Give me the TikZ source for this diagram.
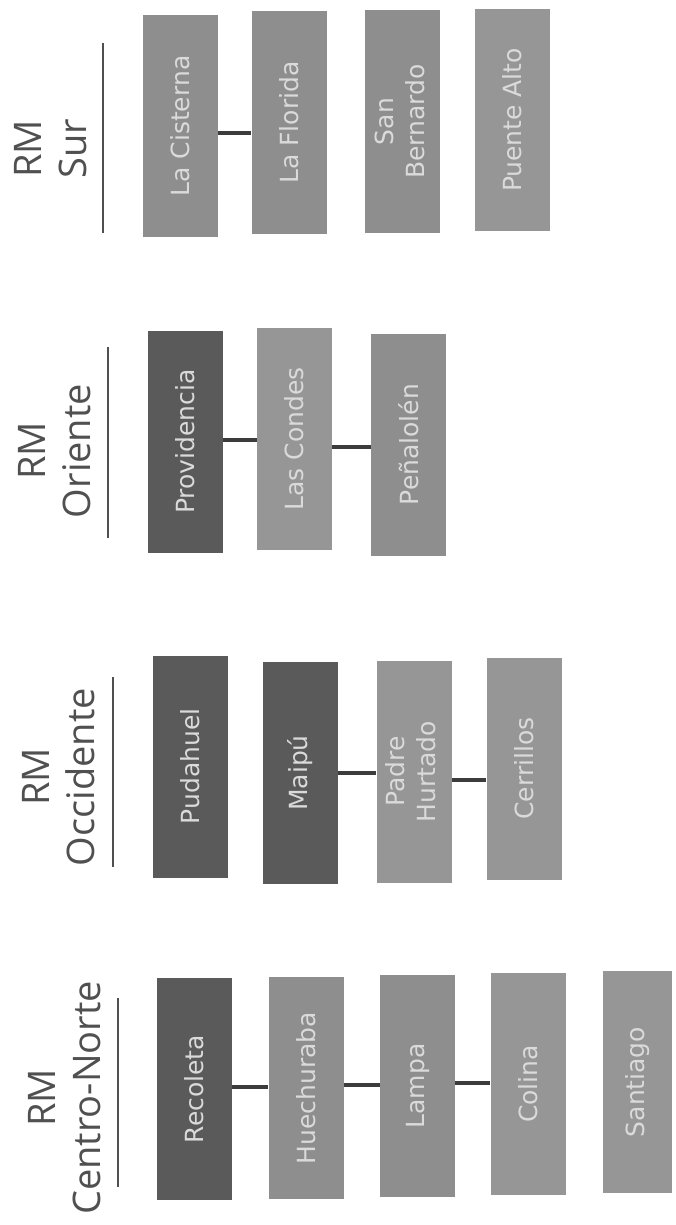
\documentclass[tikz,border=0pt]{standalone}
\usepackage{fontspec}
\setmainfont{DejaVu Sans}
\newfontfamily\titlefont{Open Sans}
\definecolor{darkbox}{HTML}{5A5A5A}
\definecolor{lightbox}{HTML}{8E8E8E}
\definecolor{paler}{HTML}{969696}
\definecolor{boxtext}{HTML}{DADADA}
\definecolor{titlegray}{HTML}{505050}
\definecolor{linkgray}{HTML}{3C3C3C}
\begin{document}
\begin{tikzpicture}[x=1pt,y=1pt,
  cell/.style={draw=none, inner sep=0pt, minimum width=75pt, minimum height=222pt,
    text=boxtext, font=\fontsize{25}{31}\selectfont},
  dark/.style={cell, fill=darkbox},
  light/.style={cell, fill=lightbox},
  pale/.style={cell, fill=paler},
  grouptitle/.style={rotate=90, align=center, inner sep=0pt, text=titlegray,
    font=\titlefont\fontsize{38}{45}\selectfont},
  rule/.style={draw=titlegray, line width=1.4pt},
  link/.style={draw=linkgray, line width=4pt}]
\fill[white] (0,0) rectangle (676,-1225);
\useasboundingbox (0,0) rectangle (676,-1225);

% ---------- RM Sur ----------
\node[grouptitle] (tsur) at (51,-149) {RM\\Sur};
\coordinate (sura) at (103,-43);
\coordinate (surb) at (103,-233);
\draw[rule] (sura) -- (surb);
\node[light] (lcis) at (180.5,-126) {\rotatebox{90}{La Cisterna}};
\node[light] (lflo) at (289,-122.5) {\rotatebox{90}{La Florida}};
\node[light] (sber) at (402.5,-121.5) {\rotatebox{90}{\begin{tabular}{@{}c@{}}San\\Bernardo\end{tabular}}};
\node[pale] (palt) at (512.5,-120) {\rotatebox{90}{Puente Alto}};
\draw[link] (lcis.east |- 0,-133) -- (lflo.west |- 0,-133);

% ---------- RM Oriente ----------
\node[grouptitle] (tori) at (55,-451) {RM\\Oriente};
\coordinate (oria) at (108,-347);
\coordinate (orib) at (108,-538);
\draw[rule] (oria) -- (orib);
\node[dark] (prov) at (185,-441.5) {\rotatebox{90}{Providencia}};
\node[pale] (lcon) at (294.5,-439) {\rotatebox{90}{Las Condes}};
\node[light] (pena) at (408.5,-444.5) {\rotatebox{90}{Peñalolén}};
\draw[link] (prov.east |- 0,-440) -- (lcon.west |- 0,-440);
\draw[link] (lcon.east |- 0,-447) -- (pena.west |- 0,-447);

% ---------- RM Occidente ----------
\node[grouptitle] (tocc) at (59,-777) {RM\\Occidente};
\coordinate (occa) at (113,-677);
\coordinate (occb) at (113,-867);
\draw[rule] (occa) -- (occb);
\node[dark] (puda) at (190,-766.5) {\rotatebox{90}{Pudahuel}};
\node[dark] (maip) at (300.5,-773) {\rotatebox{90}{Maipú}};
\node[pale] (phur) at (414,-771.5) {\rotatebox{90}{\begin{tabular}{@{}c@{}}Padre\\Hurtado\end{tabular}}};
\node[pale] (cerr) at (524,-768.5) {\rotatebox{90}{Cerrillos}};
\draw[link] (maip.east |- 0,-773) -- (phur.west |- 0,-773);
\draw[link] (phur.east |- 0,-780) -- (cerr.west |- 0,-780);

% ---------- RM Centro-Norte ----------
\node[grouptitle] (tcn) at (65,-1098) {RM\\Centro-Norte};
\coordinate (cna) at (118,-998);
\coordinate (cnb) at (118,-1187);
\draw[rule] (cna) -- (cnb);
\node[dark] (reco) at (194.5,-1089) {\rotatebox{90}{Recoleta}};
\node[light] (huec) at (306,-1088) {\rotatebox{90}{Huechuraba}};
\node[light] (lamp) at (417.5,-1086) {\rotatebox{90}{Lampa}};
\node[pale] (coli) at (528,-1084) {\rotatebox{90}{Colina}};
\node[pale, minimum width=69pt] (sant) at (637.5,-1082) {\rotatebox{90}{Santiago}};
\draw[link] (reco.east |- 0,-1087) -- (huec.west |- 0,-1087);
\draw[link] (huec.east |- 0,-1085) -- (lamp.west |- 0,-1085);
\draw[link] (lamp.east |- 0,-1083) -- (coli.west |- 0,-1083);
\end{tikzpicture}
\end{document}
